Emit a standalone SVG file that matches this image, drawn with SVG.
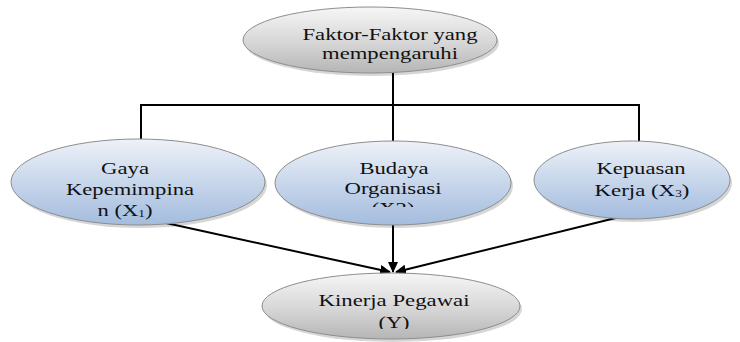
<svg xmlns="http://www.w3.org/2000/svg" width="740" height="342" viewBox="0 0 740 342">
<style>
.t{font-family:"Liberation Serif","DejaVu Serif","Noto Serif",serif;font-size:17px;fill:#111;text-anchor:middle}
.e{stroke:#8d8d8d;stroke-width:1}
.c{stroke:#000;stroke-width:2;fill:none}
.s{fill:#000;opacity:0.16}
</style>
<defs>
<linearGradient id="g" x1="0" y1="0" x2="0" y2="1">
<stop offset="0" stop-color="#f6f6f6"/><stop offset="0.55" stop-color="#d6d6d6"/><stop offset="1" stop-color="#b5b5b5"/>
</linearGradient>
<linearGradient id="b" x1="0" y1="0" x2="0" y2="1">
<stop offset="0" stop-color="#eef2f8"/><stop offset="0.55" stop-color="#c4d4ea"/><stop offset="1" stop-color="#a4bcde"/>
</linearGradient>
<marker id="a" markerWidth="11" markerHeight="10" refX="10" refY="5" orient="auto" markerUnits="userSpaceOnUse">
<path d="M0,0 L11,5 L0,10 z" fill="#000"/>
</marker>
<clipPath id="cm"><rect x="280" y="140" width="230" height="67"/></clipPath>
<clipPath id="cb"><rect x="260" y="270" width="270" height="59"/></clipPath>
</defs>
<g id="connectors">
<path class="c" d="M393,73 V105 M141,140 V105 H639 V142 M393,105 V143"/>
<path class="c" d="M150,219.6 L390,272" marker-end="url(#a)"/>
<path class="c" d="M393,215 V272" marker-end="url(#a)"/>
<path class="c" d="M640,212 L396,272" marker-end="url(#a)"/>
</g>
<g id="top">
<ellipse class="s" cx="372" cy="43" rx="127" ry="33"/>
<ellipse class="e" cx="370" cy="40" rx="127" ry="33" fill="url(#g)"/>
<text class="t" x="390" y="40" textLength="175" lengthAdjust="spacingAndGlyphs">Faktor-Faktor yang</text>
<text class="t" x="390" y="59" textLength="136" lengthAdjust="spacingAndGlyphs">mempengaruhi</text>
</g>
<g id="x1">
<ellipse class="s" cx="140" cy="185" rx="127" ry="43"/>
<ellipse class="e" cx="138" cy="182" rx="127" ry="43" fill="url(#b)"/>
<text class="t" x="125" y="174" textLength="48" lengthAdjust="spacingAndGlyphs">Gaya</text>
<text class="t" x="130" y="195" textLength="128" lengthAdjust="spacingAndGlyphs">Kepemimpina</text>
<text class="t" x="125" y="216" textLength="55" lengthAdjust="spacingAndGlyphs">n (X<tspan font-size="10" dy="1">1</tspan><tspan dy="-1">)</tspan></text>
</g>
<g id="x2">
<ellipse class="s" cx="395" cy="186" rx="118" ry="42"/>
<ellipse class="e" cx="393" cy="183" rx="118" ry="42" fill="url(#b)"/>
<text class="t" x="394" y="174" textLength="69" lengthAdjust="spacingAndGlyphs">Budaya</text>
<text class="t" x="393" y="194" textLength="97" lengthAdjust="spacingAndGlyphs">Organisasi</text>
<text class="t" x="393" y="214" textLength="43" lengthAdjust="spacingAndGlyphs" clip-path="url(#cm)">(X2)</text>
</g>
<g id="x3">
<ellipse class="s" cx="634" cy="183" rx="98" ry="39"/>
<ellipse class="e" cx="632" cy="180" rx="98" ry="39" fill="url(#b)"/>
<text class="t" x="641" y="174" textLength="89" lengthAdjust="spacingAndGlyphs">Kepuasan</text>
<text class="t" x="642" y="196" textLength="95" lengthAdjust="spacingAndGlyphs">Kerja (X<tspan font-size="10" dy="1">3</tspan><tspan dy="-1">)</tspan></text>
</g>
<g id="y">
<ellipse class="s" cx="393" cy="309" rx="129" ry="33"/>
<ellipse class="e" cx="391" cy="306" rx="129" ry="33" fill="url(#g)"/>
<text class="t" x="394" y="306" textLength="151" lengthAdjust="spacingAndGlyphs">Kinerja Pegawai</text>
<text class="t" x="394" y="328" textLength="31" lengthAdjust="spacingAndGlyphs" clip-path="url(#cb)">(Y)</text>
</g>
</svg>
